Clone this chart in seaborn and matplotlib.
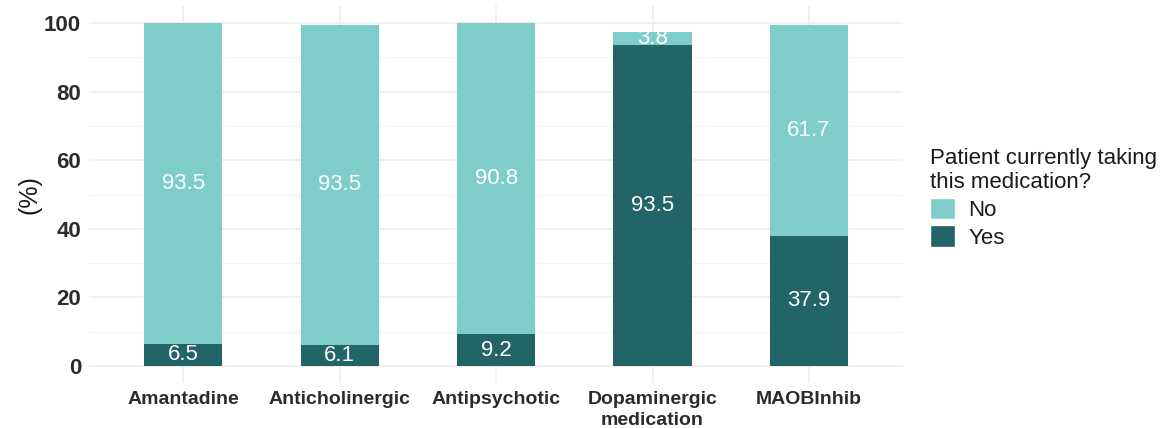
import matplotlib
matplotlib.use("Agg")
import matplotlib.pyplot as plt
import seaborn as sns
import pandas as pd
from matplotlib.patches import Patch
from matplotlib.ticker import MultipleLocator

categories = ["Amantadine", "Anticholinergic", "Antipsychotic", "Dopaminergic\nmedication", "MAOBInhib"]
yes_vals = [6.5, 6.1, 9.2, 93.5, 37.9]
no_vals = [93.5, 93.5, 90.8, 3.8, 61.7]

c_no = "#7FCDCA"
c_yes = "#226467"

sns.set_theme(style="whitegrid")
plt.rcParams['font.family'] = ['Liberation Sans', 'DejaVu Sans']

df = pd.DataFrame({"cat": categories, "yes": yes_vals, "no": no_vals})
df["total"] = df["yes"] + df["no"]

fig = plt.figure(figsize=(11.68, 4.28), dpi=100)
ax = fig.add_axes([0.0765, 0.105, 0.6965, 0.881])

sns.barplot(data=df, x="cat", y="total", color=c_no, width=0.5, ax=ax, saturation=1,
            linewidth=0, edgecolor="none", zorder=2)
sns.barplot(data=df, x="cat", y="yes", color=c_yes, width=0.5, ax=ax, saturation=1,
            linewidth=0, edgecolor="none", zorder=3)

for i, (y, n) in enumerate(zip(yes_vals, no_vals)):
    ax.text(i, y / 2, f"{y:.1f}", ha="center", va="center", color="white", fontsize=16, zorder=4)
    ax.text(i, y + n / 2, f"{n:.1f}", ha="center", va="center", color="white", fontsize=16, zorder=4)

ax.set_xlim(-0.6, 4.6)
ax.set_ylim(-5, 105)
ax.yaxis.set_major_locator(MultipleLocator(20))
ax.yaxis.set_minor_locator(MultipleLocator(10))
ax.grid(True, which="major", axis="both", color="#EBEBEB", linewidth=1.1, zorder=0)
ax.grid(True, which="minor", axis="y", color="#F2F2F2", linewidth=0.6, zorder=0)
ax.set_axisbelow(True)
for s in ax.spines.values():
    s.set_visible(False)

ax.set_xlabel("")
ax.set_ylabel("(%)", fontsize=18, color="#1A1A1A", labelpad=2)
ax.tick_params(axis="both", length=0, pad=6)
for lab in ax.get_yticklabels():
    lab.set_fontweight("bold"); lab.set_fontsize(16); lab.set_color("#2B2B2B")
for lab in ax.get_xticklabels():
    lab.set_fontweight("bold"); lab.set_fontsize(14); lab.set_color("#2B2B2B")
    lab.set_linespacing(1.25)

handles = [Patch(facecolor=c_no, label="No"), Patch(facecolor=c_yes, label="Yes")]
leg = fig.legend(handles=handles, title="Patient currently taking\nthis medication?",
                 loc="upper left", bbox_to_anchor=(0.787, 0.68), frameon=False,
                 fontsize=16, title_fontsize=16, handlelength=1.1, handleheight=1.1,
                 handletextpad=0.6, labelspacing=0.2, borderpad=0)
leg._legend_box.align = "left"
for t in leg.get_texts():
    t.set_color("#1A1A1A")
leg.get_title().set_color("#1A1A1A")

fig.savefig("out.png", dpi=100)
